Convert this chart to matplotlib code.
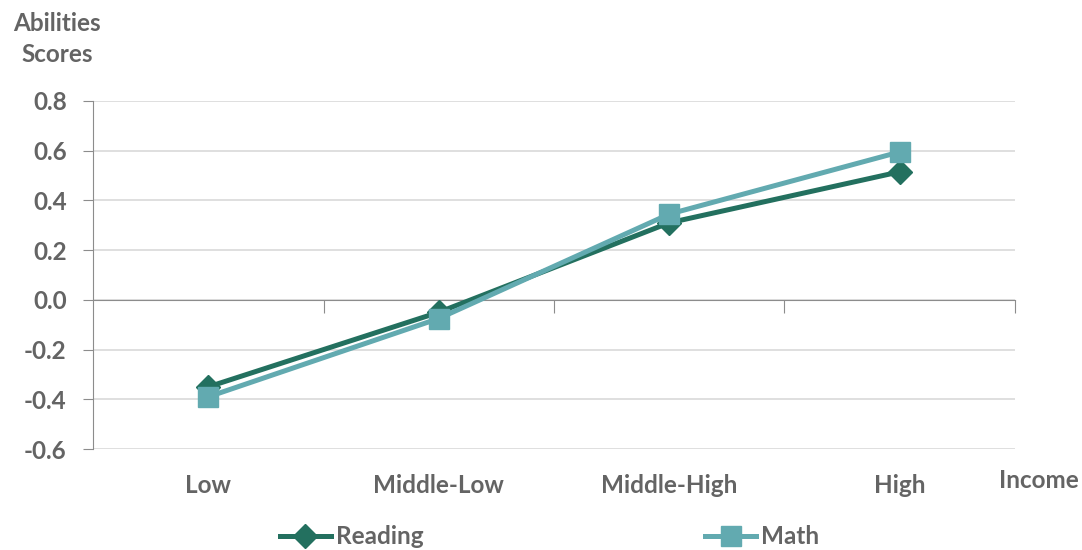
import matplotlib
matplotlib.use("Agg")
import matplotlib.pyplot as plt
import matplotlib.transforms as mtransforms
from matplotlib.lines import Line2D

categories = ["Low", "Middle-Low", "Middle-High", "High"]
reading = [-0.35, -0.05, 0.31, 0.515]
math_scores = [-0.39, -0.075, 0.345, 0.595]
yticks = [-0.6, -0.4, -0.2, 0.0, 0.2, 0.4, 0.6, 0.8]

plt.rcParams['font.family'] = ['Lato', 'DejaVu Sans']
TXT = "#646464"
C_READ = "#23705f"
C_MATH = "#62aab0"
FS = 17.5
LW = 3.6

fig = plt.figure(figsize=(10.82, 5.5), dpi=100)
ax = fig.add_axes([0.086, 0.1836, 0.852, 0.6328])

x = list(range(len(categories)))
ax.plot(x, reading, color=C_READ, lw=LW, marker="D", ms=12, mec=C_READ, mfc=C_READ, zorder=3, label="Reading")
ax.plot(x, math_scores, color=C_MATH, lw=LW, marker="s", ms=14.5, mec=C_MATH, mfc=C_MATH, zorder=4, label="Math")

ax.set_xlim(-0.5, len(categories) - 0.5)
ax.set_ylim(-0.6, 0.8)
ax.set_yticks(yticks)
ax.set_yticklabels([f"{v:.1f}" for v in yticks], fontsize=FS, fontweight="bold", color=TXT)
ax.yaxis.grid(True, color="#d9d9d9", lw=1.2)
ax.set_axisbelow(True)

for s in ["top", "right"]:
    ax.spines[s].set_visible(False)
ax.spines["left"].set_color("#8c8c8c")
ax.spines["bottom"].set_color("#8c8c8c")
ax.spines["bottom"].set_position(("data", 0))
ax.tick_params(axis="y", length=7, color="#8c8c8c", pad=12)

bounds = [i + 0.5 for i in range(len(categories))]
ax.set_xticks(bounds)
ax.set_xticklabels([])
ax.tick_params(axis="x", direction="out", length=9, color="#8c8c8c")

trans = mtransforms.blended_transform_factory(ax.transData, ax.transAxes)
for xi, c in zip(x, categories):
    ax.text(xi, -0.105, c, transform=trans, ha="center", va="center",
            fontsize=FS, fontweight="bold", color=TXT)

fig.text(1039 / 1082, 1 - 481 / 550, "Income", ha="center", va="center",
         fontsize=FS, fontweight="bold", color=TXT)
fig.text(57 / 1082, 1 - 39 / 550, "Abilities\nScores", ha="center", va="center",
         fontsize=FS, fontweight="bold", color=TXT, linespacing=1.45)

handles = [
    Line2D([], [], color=C_READ, lw=LW, marker="D", ms=12),
    Line2D([], [], color=C_MATH, lw=LW, marker="s", ms=14.5),
]
leg = fig.legend(handles, ["Reading", "Math"], loc="center", bbox_to_anchor=(0.508, 1 - 537 / 550),
                 ncol=2, frameon=False, handlelength=2.1, handletextpad=0.2, columnspacing=11.6,
                 prop={"size": FS, "weight": "bold"})
for t in leg.get_texts():
    t.set_color(TXT)

fig.savefig("out.png", dpi=100)
